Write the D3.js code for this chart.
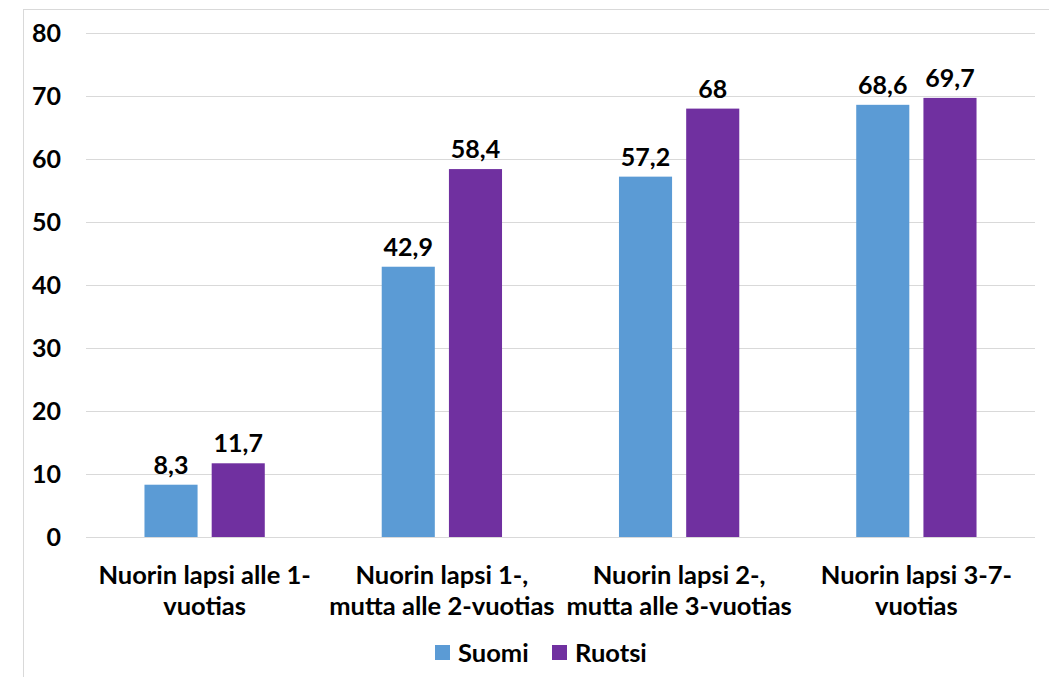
<!DOCTYPE html>
<html>
<head>
<meta charset="utf-8">
<script src="https://cdn.jsdelivr.net/npm/d3@7"></script>
<style>
  body { margin: 0; background: #fff; }
  svg text { font-family: Lato, "Open Sans", sans-serif; font-weight: bold; fill: #000; }
</style>
</head>
<body>
<div id="container"></div>
<script>
// data
const categories = [
    ["Nuorin lapsi alle 1-", "vuotias"],
    ["Nuorin lapsi 1-,", "mutta alle 2-vuotias"],
    ["Nuorin lapsi 2-,", "mutta alle 3-vuotias"],
    ["Nuorin lapsi 3-7-", "vuotias"],
];
const seriesNames = ["Suomi", "Ruotsi"];
const suomi = [8.3, 42.9, 57.2, 68.6];
const ruotsi = [11.7, 58.4, 68, 69.7];
const yTicks = [0, 10, 20, 30, 40, 50, 60, 70, 80];

const COLORS = ["#5b9bd5", "#7030a0"];
const width = 1049;
const height = 677;
const plot = { left: 86, right: 1035, top: 33, bottom: 537 };

const svg = d3.select("#container")
    .append("svg")
    .attr("width", width)
    .attr("height", height);

// outer frame (cut off at right and bottom like the original)
svg.append("rect")
    .attr("x", 23.5).attr("y", 9.5)
    .attr("width", 1100).attr("height", 800)
    .attr("fill", "none")
    .attr("stroke", "#d9d9d9");

const y = d3.scaleLinear().domain([0, 80]).range([plot.bottom, plot.top]);
const x0 = d3.scaleBand()
    .domain(d3.range(categories.length))
    .range([plot.left, plot.right]);
const x1 = d3.scaleBand()
    .domain(seriesNames)
    .range([0, x0.bandwidth()])
    .paddingInner(0.21)
    .paddingOuter(0.87);

// gridlines
svg.append("g")
    .selectAll("line")
    .data(yTicks)
    .join("line")
    .attr("x1", plot.left).attr("x2", plot.right)
    .attr("y1", (d) => Math.round(y(d)) + 0.5)
    .attr("y2", (d) => Math.round(y(d)) + 0.5)
    .attr("stroke", "#d9d9d9")
    .attr("stroke-width", 1);

// y axis labels
svg.append("g")
    .selectAll("text")
    .data(yTicks)
    .join("text")
    .attr("x", 61)
    .attr("y", (d) => y(d))
    .attr("dy", "0.36em")
    .attr("text-anchor", "end")
    .attr("font-size", 25)
    .text((d) => d);

const rows = [];
categories.forEach((c, i) => {
    rows.push({ i: i, s: "Suomi", v: suomi[i] });
    rows.push({ i: i, s: "Ruotsi", v: ruotsi[i] });
});

// bars
svg.append("g")
    .selectAll("rect")
    .data(rows)
    .join("rect")
    .attr("x", (d) => x0(d.i) + x1(d.s))
    .attr("y", (d) => y(d.v))
    .attr("width", x1.bandwidth())
    .attr("height", (d) => y(0) - y(d.v))
    .attr("fill", (d) => COLORS[seriesNames.indexOf(d.s)]);

// value labels
const fmt = (v) => String(v).replace(".", ",");
svg.append("g")
    .selectAll("text")
    .data(rows)
    .join("text")
    .attr("x", (d) => x0(d.i) + x1(d.s) + x1.bandwidth() / 2)
    .attr("y", (d) => y(d.v) - 11)
    .attr("text-anchor", "middle")
    .attr("font-size", 25)
    .text((d) => fmt(d.v));

// category labels
const catG = svg.append("g")
    .selectAll("text")
    .data(categories)
    .join("text")
    .attr("x", (d, i) => x0(i) + x0.bandwidth() / 2)
    .attr("y", 584)
    .attr("text-anchor", "middle")
    .attr("font-size", 25.5);
catG.selectAll("tspan")
    .data((d) => d)
    .join("tspan")
    .attr("x", function () { return this.parentNode.getAttribute("x"); })
    .attr("dy", (d, j) => (j === 0 ? 0 : 31))
    .text((d) => d);

// legend
const legend = svg.append("g")
    .selectAll("g")
    .data(seriesNames)
    .join("g")
    .attr("transform", (d, i) => `translate(${435 + i * 117},645)`);
legend.append("rect")
    .attr("width", 15).attr("height", 15)
    .attr("fill", (d, i) => COLORS[i]);
legend.append("text")
    .attr("x", 23).attr("y", 8)
    .attr("dy", "0.36em")
    .attr("font-size", 25.5)
    .text((d) => d);
</script>
</body>
</html>
